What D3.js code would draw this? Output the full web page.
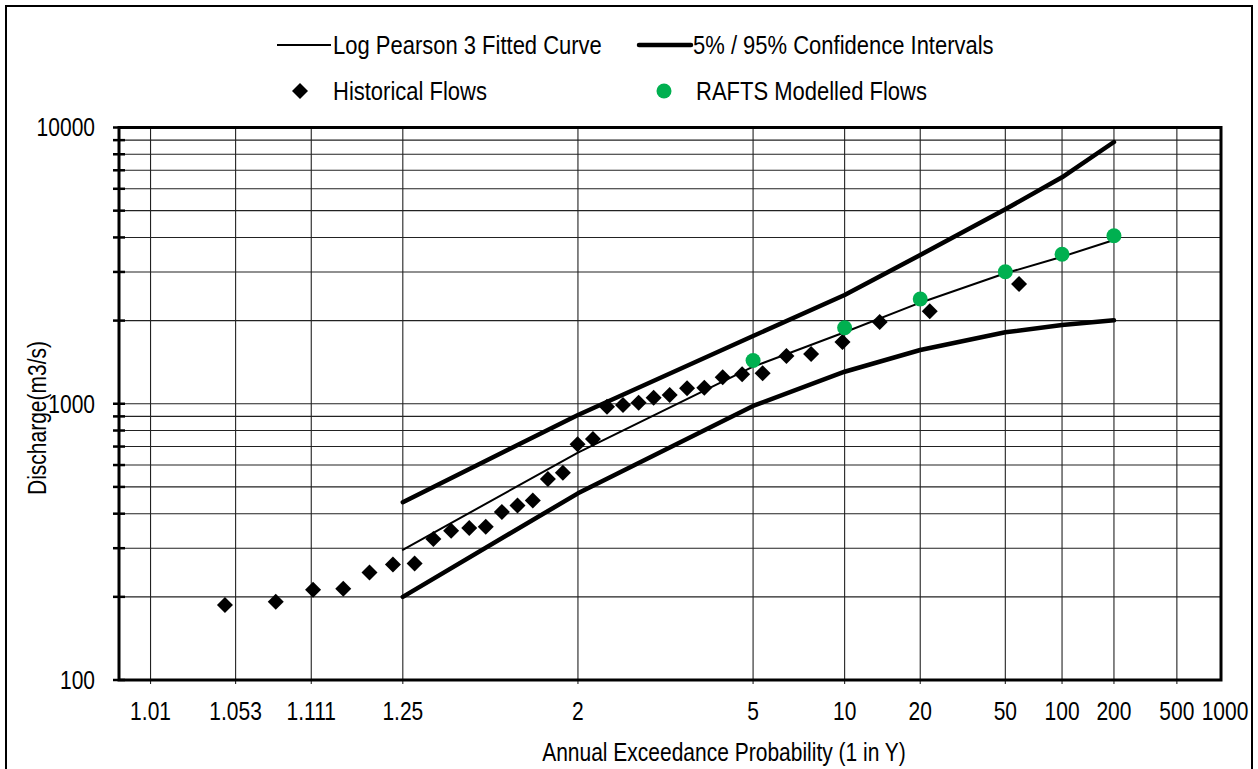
<!DOCTYPE html>
<html>
<head>
<meta charset="utf-8">
<script src="https://cdn.jsdelivr.net/npm/d3@7"></script>
<style>
  body { margin: 0; background: #fff; }
  svg text { font-family: "Liberation Sans", Arial, sans-serif; fill: #000; }
</style>
</head>
<body>
<div id="chart"></div>
<script>
// x axis ticks, as return period (1 in Y)
const xTickYears = [1.0204, 1.0526, 1.1111, 1.25, 2, 5, 10, 20, 50, 100, 200, 500, 1000];
const xTickLabels = ["1.01", "1.053", "1.111", "1.25", "2", "5", "10", "20", "50", "100", "200", "500", "1000"];
const yTickValues = [100, 1000, 10000];

// fitted LP3 curve and confidence limits
const curveYears = [1.25, 2, 5, 10, 20, 50, 100, 200];
const lp3Fit = [296, 665, 1362, 1814, 2322, 2966, 3406, 3915];
const upper95 = [440, 911, 1759, 2476, 3455, 5057, 6602, 8861];
const lower5 = [200, 474, 982, 1306, 1565, 1814, 1928, 2005];

// historical annual peaks at their plotting position
const histYears = [1.047, 1.079, 1.113, 1.149, 1.188, 1.230, 1.276, 1.322, 1.372, 1.430, 1.490,
  1.556, 1.628, 1.707, 1.794, 1.891, 1.997, 2.122, 2.250, 2.414, 2.595, 2.793, 3.033, 3.333,
  3.679, 4.109, 4.649, 5.336, 6.32, 7.62, 9.82, 13.6, 22.0, 58.8];
const histFlows = [187, 192, 212, 214, 245, 262, 264, 324, 347, 355, 359, 406, 428, 446, 534,
  563, 713, 746, 976, 990, 1009, 1052, 1076, 1137, 1143, 1246, 1279, 1290, 1489, 1514, 1673,
  1977, 2161, 2714];

// RAFTS model results
const raftsYears = [5, 10, 20, 50, 100, 200];
const raftsFlows = [1434, 1885, 2394, 3006, 3475, 4058];

const width = 1258;
const height = 769;
const green = "#00b050";

// inverse standard normal (Acklam)
function normInv(p) {
  const a = [-3.969683028665376e+01, 2.209460984245205e+02, -2.759285104469687e+02, 1.383577518672690e+02, -3.066479806614716e+01, 2.506628277459239e+00];
  const b = [-5.447609879822406e+01, 1.615858368580409e+02, -1.556989798598866e+02, 6.680131188771972e+01, -1.328068155288572e+01];
  const c = [-7.784894002430293e-03, -3.223964580411365e-01, -2.400758277161838e+00, -2.549732539343734e+00, 4.374664141464968e+00, 2.938163982698783e+00];
  const d = [7.784695709041462e-03, 3.224671290700398e-01, 2.445134137142996e+00, 3.754408661907416e+00];
  const pl = 0.02425;
  let q, r;
  if (p < pl) {
    q = Math.sqrt(-2 * Math.log(p));
    return (((((c[0]*q+c[1])*q+c[2])*q+c[3])*q+c[4])*q+c[5]) / ((((d[0]*q+d[1])*q+d[2])*q+d[3])*q+1);
  }
  if (p > 1 - pl) {
    q = Math.sqrt(-2 * Math.log(1 - p));
    return -(((((c[0]*q+c[1])*q+c[2])*q+c[3])*q+c[4])*q+c[5]) / ((((d[0]*q+d[1])*q+d[2])*q+d[3])*q+1);
  }
  q = p - 0.5; r = q * q;
  return (((((a[0]*r+a[1])*r+a[2])*r+a[3])*r+a[4])*r+a[5])*q / (((((b[0]*r+b[1])*r+b[2])*r+b[3])*r+b[4])*r+1);
}
const zOf = yrs => normInv(1 - 1 / yrs);

const plot = { left: 119, right: 1221, top: 127.5, bottom: 680 };

// probability paper: linear in normal deviate
const xz = d3.scaleLinear().domain([zOf(1.0139), zOf(1000)]).range([plot.left, plot.right]);
const x = yrs => xz(zOf(yrs));
const y = d3.scaleLog().domain([100, 10000]).range([plot.bottom, plot.top]);

const svg = d3.select("#chart").append("svg")
  .attr("width", width)
  .attr("height", height);

// text stretched a little vertically like the original
function label(g, px, py, str, size, anchor, rot) {
  return g.append("text")
    .attr("transform", `translate(${px},${py})${rot ? " rotate(" + rot + ")" : ""} scale(1,1.2)`)
    .attr("text-anchor", anchor || "start")
    .attr("dy", "0.35em")
    .style("font-size", size + "px")
    .text(str);
}

// outer frame
svg.append("rect")
  .attr("x", 6).attr("y", 6)
  .attr("width", 1246).attr("height", 800)
  .attr("fill", "none").attr("stroke", "#000").attr("stroke-width", 2);

// grid
const minorY = [];
[100, 1000].forEach(dec => { for (let k = 1; k <= 9; k++) minorY.push(dec * k); });
minorY.push(10000);

svg.append("g").selectAll("line").data(minorY).enter().append("line")
  .attr("x1", plot.left).attr("x2", plot.right)
  .attr("y1", d => y(d)).attr("y2", d => y(d))
  .attr("stroke", "#222").attr("stroke-width", 1.1);

svg.append("g").selectAll("line").data(xTickYears.slice(0, -1)).enter().append("line")
  .attr("x1", d => x(d)).attr("x2", d => x(d))
  .attr("y1", plot.top).attr("y2", plot.bottom + 4)
  .attr("stroke", "#222").attr("stroke-width", 1.1);

// y ticks crossing the axis
svg.append("g").selectAll("line").data(minorY).enter().append("line")
  .attr("x1", plot.left - 6).attr("x2", plot.left + 6)
  .attr("y1", d => y(d)).attr("y2", d => y(d))
  .attr("stroke", "#000").attr("stroke-width", 2.5);

// plot box
svg.append("rect")
  .attr("x", plot.left).attr("y", plot.top)
  .attr("width", plot.right - plot.left).attr("height", plot.bottom - plot.top)
  .attr("fill", "none").attr("stroke", "#000").attr("stroke-width", 3);

// tick labels
const tl = svg.append("g");
yTickValues.forEach(v => label(tl, 95, y(v), d3.format("d")(v), 21, "end"));
xTickYears.forEach((v, i) => label(tl, x(v) + (i === xTickYears.length - 1 ? 4 : 0), 711, xTickLabels[i], 21, "middle"));

// axis titles
label(svg, 724, 752, "Annual Exceedance Probability (1 in Y)", 21, "middle");
label(svg, 37, 418, "Discharge(m3/s)", 21, "middle", -90);

// curves
const line = d3.line().x(d => x(d[0])).y(d => y(d[1]));
const curves = [
  { vals: upper95, w: 4.5 },
  { vals: lower5, w: 4.5 },
  { vals: lp3Fit, w: 2 }
];
svg.append("g").selectAll("path").data(curves).enter().append("path")
  .attr("d", c => line(curveYears.map((t, i) => [t, c.vals[i]])))
  .attr("fill", "none")
  .attr("stroke", "#000")
  .attr("stroke-width", c => c.w)
  .attr("stroke-linecap", "round")
  .attr("stroke-linejoin", "round");

// historical flows - diamonds
const diamond = d3.symbol().type(d3.symbolSquare).size(128);
svg.append("g").selectAll("path").data(histYears).enter().append("path")
  .attr("d", diamond)
  .attr("transform", (d, i) => `translate(${x(d)},${y(histFlows[i])}) rotate(45)`)
  .attr("fill", "#000");

// RAFTS - green dots
svg.append("g").selectAll("circle").data(raftsYears).enter().append("circle")
  .attr("cx", d => x(d))
  .attr("cy", (d, i) => y(raftsFlows[i]))
  .attr("r", 7.5)
  .attr("fill", green);

// legend
const lg = svg.append("g");
lg.append("line").attr("x1", 277).attr("x2", 331).attr("y1", 45).attr("y2", 45)
  .attr("stroke", "#000").attr("stroke-width", 2);
label(lg, 333, 45, "Log Pearson 3 Fitted Curve", 22);
lg.append("line").attr("x1", 639).attr("x2", 691).attr("y1", 45).attr("y2", 45)
  .attr("stroke", "#000").attr("stroke-width", 4.5).attr("stroke-linecap", "round");
label(lg, 693, 45, "5% / 95% Confidence Intervals", 22);
lg.append("path").attr("d", diamond)
  .attr("transform", "translate(300,91) rotate(45)").attr("fill", "#000");
label(lg, 333, 91, "Historical Flows", 22);
lg.append("circle").attr("cx", 664).attr("cy", 91).attr("r", 7.5).attr("fill", green);
label(lg, 696, 91, "RAFTS Modelled Flows", 22);
</script>
</body>
</html>
